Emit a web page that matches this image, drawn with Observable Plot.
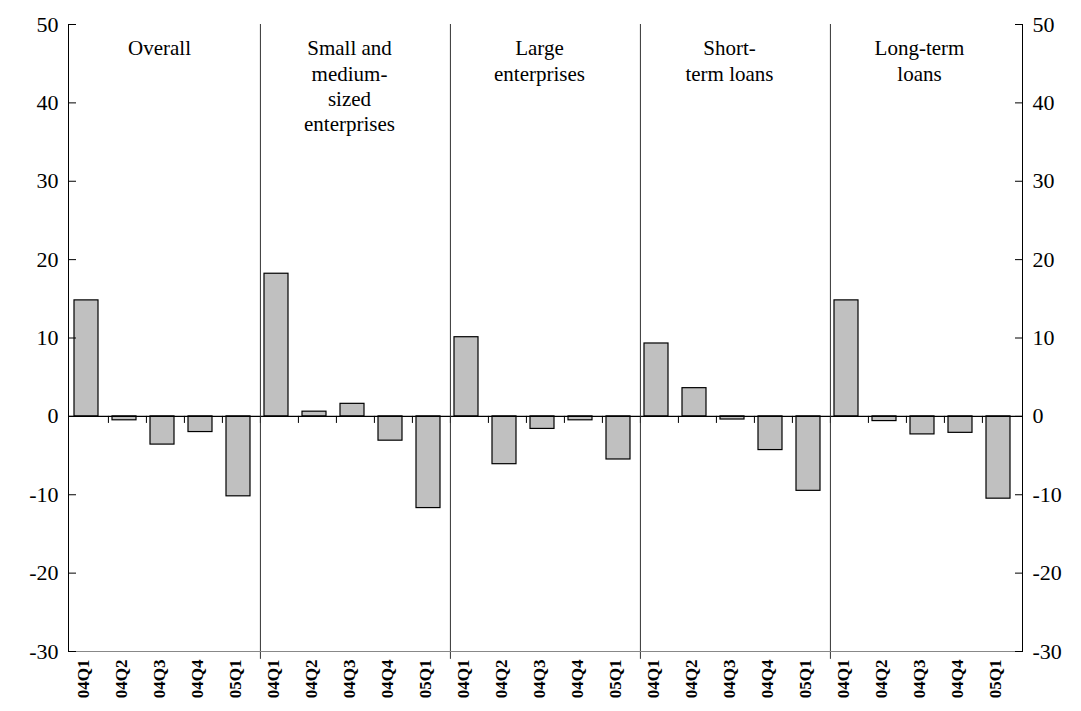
<!DOCTYPE html>
<html><head>
<meta charset="utf-8">
<script src="https://cdn.jsdelivr.net/npm/d3@7"></script>
<script src="https://cdn.jsdelivr.net/npm/@observablehq/plot@0.6"></script>
<style>body{margin:0;background:#fff} svg text{font-family:'Times New Roman','Liberation Serif',serif !important}</style>
</head><body><div id="chart"></div>
<script>
const panels = ["Overall", "Small and\nmedium-\nsized\nenterprises", "Large\nenterprises", "Short-\nterm loans", "Long-term\nloans"];
const quarters = ["04Q1", "04Q2", "04Q3", "04Q4", "05Q1"];
const values = [
  [14.8, -0.5, -3.6, -2.0, -10.2],
  [18.2, 0.6, 1.6, -3.1, -11.7],
  [10.1, -6.1, -1.6, -0.5, -5.5],
  [9.3, 3.6, -0.4, -4.3, -9.5],
  [14.8, -0.6, -2.3, -2.1, -10.5]
];
const yTicks = [-30, -20, -10, 0, 10, 20, 30, 40, 50];
const data = [];
panels.forEach((p, i) => quarters.forEach((q, j) => data.push({key: i + "|" + q, panel: i, q, v: values[i][j]})));
const keys = data.map(d => d.key);
const W = 1081, mL = 68, mR = 59;
const bw = (W - mL - mR) / keys.length;
const firsts = data.filter(d => d.q === "04Q1" && d.panel > 0);
const mids = data.filter(d => d.q === "04Q3");
const serif = "'Times New Roman', 'Liberation Serif', serif";

const chart = Plot.plot({
  width: W, height: 711,
  marginLeft: mL, marginRight: mR, marginTop: 24, marginBottom: 60,
  style: {fontFamily: serif, fontSize: "22px", color: "#000", background: "#fff"},
  x: {domain: keys, padding: 0, axis: null},
  y: {domain: [-30, 50]},
  marks: [
    Plot.barY(data, {x: "key", y: "v", fill: "#c0c0c0", stroke: "#000", strokeWidth: 1.2, insetLeft: 4, insetRight: 10}),
    Plot.ruleY([0], {stroke: "#000", strokeWidth: 1.2}),
    Plot.ruleX(data.slice(1), {x: "key", y1: 0, y2: -0.9, dx: -bw / 2, stroke: "#000"}),
    Plot.ruleX(firsts, {x: "key", y1: -31, y2: 50, dx: -bw / 2, stroke: "#333", strokeWidth: 1}),
    Plot.ruleY([-30], {stroke: "#888"}),
    Plot.frame({anchor: "left", stroke: "#000"}),
    Plot.frame({anchor: "right", stroke: "#000"}),
    Plot.axisY(yTicks, {anchor: "left", tickSize: -8, tickPadding: 18, label: null, fontSize: 22, fontFamily: serif, tickFormat: d => String(d)}),
    Plot.axisY(yTicks, {anchor: "right", tickSize: -8, tickPadding: 18, label: null, fontSize: 22, fontFamily: serif, tickFormat: d => String(d)}),
    Plot.axisX({tickFormat: k => k.split("|")[1], tickRotate: -90, tickSize: 0, tickPadding: 8,
      fontWeight: "bold", fontSize: 17, fontFamily: serif, label: null, dx: -6}),
    Plot.text(mids, {x: "key", y: 50, text: d => panels[d.panel], dx: -6, dy: 13, frameAnchor: "top",
      lineAnchor: "top", fontSize: 21, fontFamily: serif, lineHeight: 1.2})
  ]
});
document.getElementById("chart").append(chart);
</script>
</body></html>
